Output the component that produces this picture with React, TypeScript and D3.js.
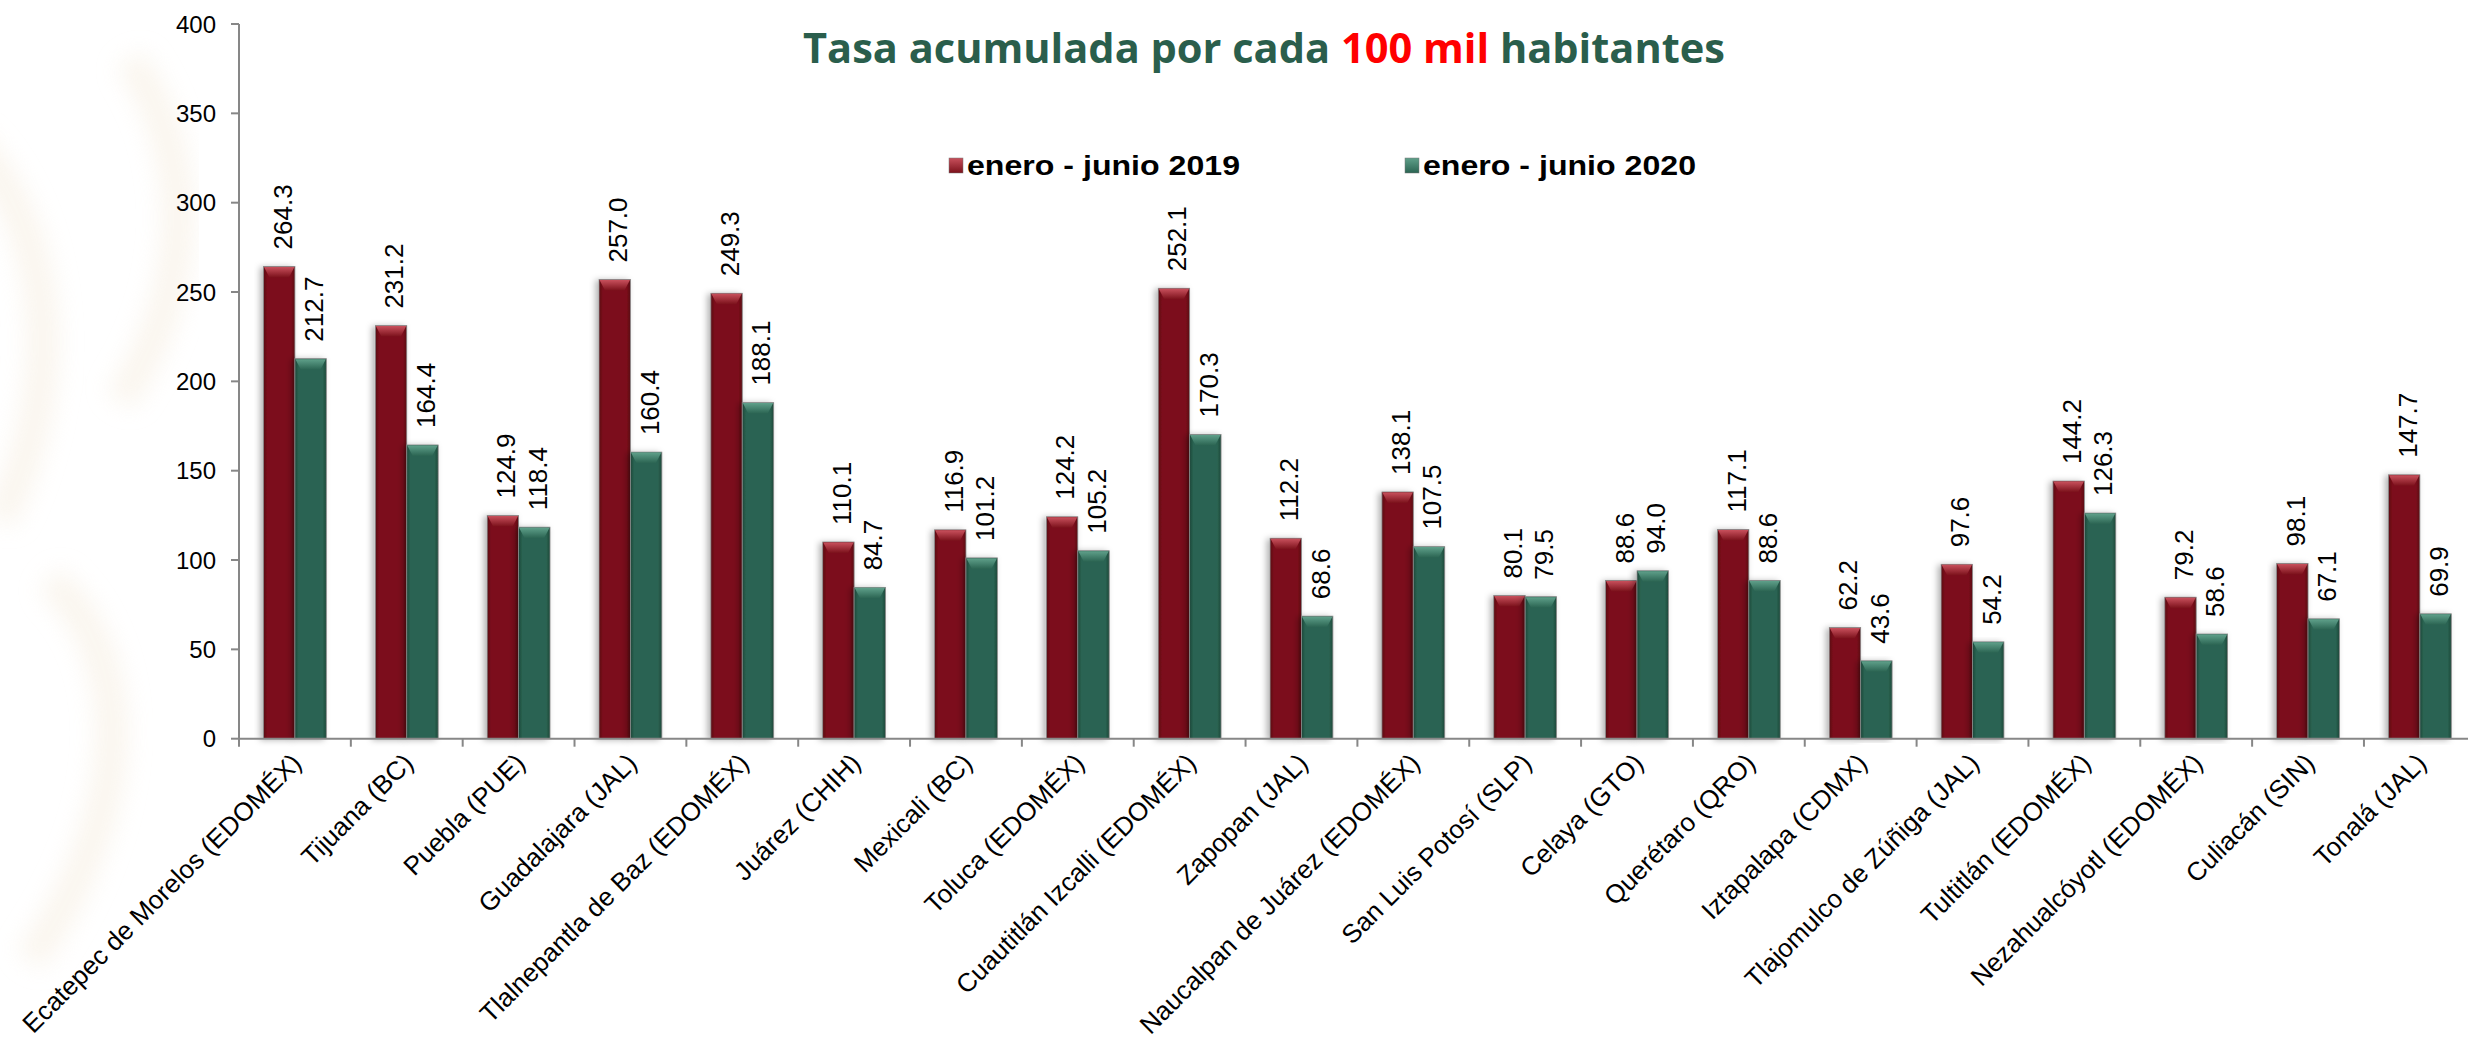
import * as d3 from "d3";

const cities = [
  "Ecatepec de Morelos (EDOMÉX)",
  "Tijuana (BC)",
  "Puebla (PUE)",
  "Guadalajara (JAL)",
  "Tlalnepantla de Baz (EDOMÉX)",
  "Juárez (CHIH)",
  "Mexicali (BC)",
  "Toluca (EDOMÉX)",
  "Cuautitlán Izcalli (EDOMÉX)",
  "Zapopan (JAL)",
  "Naucalpan de Juárez (EDOMÉX)",
  "San Luis Potosí (SLP)",
  "Celaya (GTO)",
  "Querétaro (QRO)",
  "Iztapalapa (CDMX)",
  "Tlajomulco de Zúñiga (JAL)",
  "Tultitlán (EDOMÉX)",
  "Nezahualcóyotl (EDOMÉX)",
  "Culiacán (SIN)",
  "Tonalá (JAL)",
];

const rate2019 = [
  264.3, 231.2, 124.9, 257.0, 249.3, 110.1, 116.9, 124.2, 252.1, 112.2, 138.1,
  80.1, 88.6, 117.1, 62.2, 97.6, 144.2, 79.2, 98.1, 147.7,
];

const rate2020 = [
  212.7, 164.4, 118.4, 160.4, 188.1, 84.7, 101.2, 105.2, 170.3, 68.6, 107.5,
  79.5, 94.0, 88.6, 43.6, 54.2, 126.3, 58.6, 67.1, 69.9,
];

const seriesNames = ["enero - junio 2019", "enero - junio 2020"];
const yTicks = [0, 50, 100, 150, 200, 250, 300, 350, 400];

const W = 2468,
  H = 1049;
const FONT = "'Liberation Sans', Arial, sans-serif";
const colors = [
  { base: "#7b111b", light: "#c8505c", dark: "#5a0b12" },
  { base: "#2b6452", light: "#5fa08a", dark: "#1c4739" },
];

export default function App() {
  const left = 239,
    step = 111.84;
  const x0 = d3
    .scaleBand<string>()
    .domain(cities)
    .range([left, left + step * cities.length]);
  const x1 = d3
    .scaleBand<number>()
    .domain([0, 1])
    .range([0, x0.bandwidth()])
    .paddingOuter(0.78);
  const y = d3.scaleLinear().domain([0, 400]).range([738.7, 24]);
  const fmt = d3.format(".1f");
  const series = [rate2019, rate2020];
  const bw = x1.bandwidth();

  return (
    <svg
      width={W}
      height={H}
      style={{ position: "absolute", left: 0, top: 0, background: "#fff" }}
      fontFamily={FONT}
    >
      <defs>
        {colors.map((c, i) => (
          <g key={i}>
            <linearGradient id={`body${i}`} x1={0} x2={1} y1={0} y2={0}>
              <stop offset={0} stopColor={c.dark} />
              <stop offset={0.12} stopColor={c.base} />
              <stop offset={0.88} stopColor={c.base} />
              <stop offset={1} stopColor={c.dark} />
            </linearGradient>
            <linearGradient id={`bevel${i}`} x1={0} x2={0} y1={0} y2={1}>
              <stop offset={0} stopColor={c.light} />
              <stop offset={1} stopColor={c.base} />
            </linearGradient>
          </g>
        ))}
        <filter id="shadow" x="-30%" y="-5%" width="160%" height="110%">
          <feDropShadow
            dx={-3}
            dy={1}
            stdDeviation={3}
            floodColor="#000"
            floodOpacity={0.3}
          />
        </filter>
        <filter id="blur">
          <feGaussianBlur stdDeviation={12} />
        </filter>
      </defs>

      {/* very faint watermark */}
      <g fill="none" stroke="#f6eddf" strokeWidth={30} opacity={0.55} filter="url(#blur)">
        <path d="M-30,140 C50,220 70,380 0,520" />
        <path d="M50,580 C140,660 130,820 30,960" />
        <path d="M130,60 C200,160 190,300 120,400" />
      </g>

      {/* title */}
      <text
        x={803}
        y={63}
        fontFamily="'Open Sans', 'Noto Sans', sans-serif"
        fontWeight={700}
        fontSize={42}
        fill="#2a5e4c"
        textLength={922}
        lengthAdjust="spacingAndGlyphs"
      >
        Tasa acumulada por cada <tspan fill="#ff0000">100 mil</tspan>{" "}
        habitantes
      </text>

      {/* legend */}
      {seriesNames.map((s, i) => {
        const lx = i === 0 ? 949 : 1405;
        return (
          <g key={s}>
            <rect
              x={lx}
              y={158}
              width={14}
              height={15}
              fill={`url(#bevel${i})`}
              stroke="#777"
              strokeWidth={0.5}
            />
            <text
              x={lx + 18}
              y={175}
              fontWeight={700}
              fontSize={28}
              fill="#000"
              textLength={273}
              lengthAdjust="spacingAndGlyphs"
            >
              {s}
            </text>
          </g>
        );
      })}

      {/* y axis */}
      <g>
        <line x1={left} x2={left} y1={y(400)} y2={y(0)} stroke="#878787" strokeWidth={2} />
        {yTicks.map((t) => (
          <g key={t}>
            <line x1={left - 8} x2={left} y1={y(t)} y2={y(t)} stroke="#878787" strokeWidth={2} />
            <text
              x={216}
              y={y(t)}
              dy="0.36em"
              textAnchor="end"
              fontSize={24}
              fill="#000"
            >
              {t}
            </text>
          </g>
        ))}
      </g>

      {/* bars */}
      {cities.map((c, ci) => (
        <g key={c} transform={`translate(${x0(c)},0)`}>
          {series.map((vals, si) => {
            const v = vals[ci];
            const bx = x1(si) as number;
            const top = y(v);
            const h = y(0) - top;
            const bev = Math.min(11, h);
            return (
              <g key={si}>
                <rect
                  x={bx}
                  y={top}
                  width={bw}
                  height={h}
                  fill={`url(#body${si})`}
                  stroke="#8a8a8a"
                  strokeWidth={0.8}
                  filter="url(#shadow)"
                />
                <path
                  d={`M${bx + 0.5},${top + 0.5}L${bx + bw - 0.5},${top + 0.5}L${bx + bw - 6},${top + bev}L${bx + 6},${top + bev}Z`}
                  fill={`url(#bevel${si})`}
                />
              </g>
            );
          })}
        </g>
      ))}

      {/* value labels */}
      {cities.map((c, ci) => (
        <g key={c}>
          {series.map((vals, si) => {
            const cx = (x0(c) as number) + (x1(si) as number) + bw / 2 + 3;
            const ty = y(vals[ci]) - 17;
            return (
              <text
                key={si}
                transform={`translate(${cx},${ty}) rotate(-90)`}
                dy="0.36em"
                fontSize={26}
                fill="#000"
              >
                {fmt(vals[ci])}
              </text>
            );
          })}
        </g>
      ))}

      {/* x axis */}
      <g>
        <line x1={left} x2={W} y1={y(0)} y2={y(0)} stroke="#878787" strokeWidth={2} />
        {cities.map((c) => (
          <line
            key={c}
            x1={x0(c)}
            x2={x0(c)}
            y1={y(0)}
            y2={y(0) + 8}
            stroke="#878787"
            strokeWidth={2}
          />
        ))}
        {cities.map((c) => {
          const cx = (x0(c) as number) + x0.bandwidth() / 2 + 8;
          return (
            <text
              key={c}
              transform={`translate(${cx},${y(0) + 26}) rotate(-45)`}
              textAnchor="end"
              fontSize={26}
              fill="#000"
            >
              {c}
            </text>
          );
        })}
      </g>
    </svg>
  );
}
